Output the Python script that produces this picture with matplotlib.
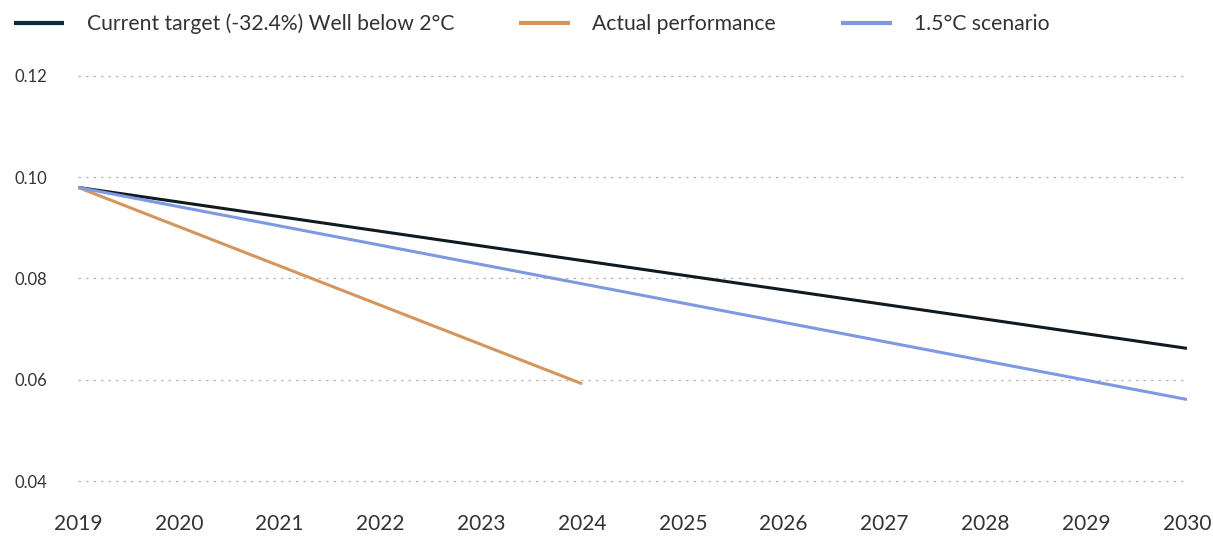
import matplotlib
matplotlib.use("Agg")
import matplotlib.pyplot as plt

plt.rcParams['font.family'] = ['Lato', 'DejaVu Sans']

# intensity pathways, start and end years
target_years = [2019, 2030]
target_vals = [0.098, 0.0662]

actual_years = [2019, 2024]
actual_vals = [0.098, 0.0592]

scen_years = [2019, 2030]
scen_vals = [0.098, 0.0561]

labels = ["Current target (-32.4%) Well below 2°C", "Actual performance", "1.5°C scenario"]
colors = ["#111a20", "#d4965e", "#7d99e2"]

yticks = [0.04, 0.06, 0.08, 0.10, 0.12]
xticks = list(range(2019, 2031))

fig = plt.figure(figsize=(12.13, 5.36), dpi=100)
ax = fig.add_axes([78 / 1213, 1 - 481 / 536, (1187 - 78) / 1213, (481 - 76) / 536])

l1, = ax.plot(target_years, target_vals, color=colors[0], lw=2.2, solid_capstyle='butt')
l2, = ax.plot(actual_years, actual_vals, color=colors[1], lw=2.2, solid_capstyle='butt')
l3, = ax.plot(scen_years, scen_vals, color=colors[2], lw=2.2, solid_capstyle='butt')

ax.set_xlim(2019, 2030)
ax.set_ylim(0.04, 0.12)
ax.set_xticks(xticks)
ax.set_xticklabels([str(x) for x in xticks])
ax.set_yticks(yticks)
ax.set_yticklabels([f"{v:.2f}" for v in yticks])

for s in ax.spines.values():
    s.set_visible(False)
ax.tick_params(axis='both', length=0, colors='#333333')
ax.tick_params(axis='x', labelsize=15, pad=24)
ax.tick_params(axis='y', labelsize=12, pad=22)
ax.grid(axis='y', color='#b5b5b5', linestyle=(0, (2, 4)), lw=0.9)
for gl in ax.get_ygridlines():
    gl.set_clip_on(False)
ax.set_axisbelow(True)

leg = fig.legend([l1, l2, l3], labels, loc='upper left', bbox_to_anchor=(0.0, 1.0),
                 ncol=3, frameon=False, fontsize=15.2, handlelength=2.4,
                 handletextpad=1.05, columnspacing=3.1, borderaxespad=0.25,
                 labelcolor='#333333')
leg.get_lines()[0].set_color('#0b2a3a')
for ln in leg.get_lines():
    ln.set_linewidth(3)

fig.savefig("out.png", dpi=100)
